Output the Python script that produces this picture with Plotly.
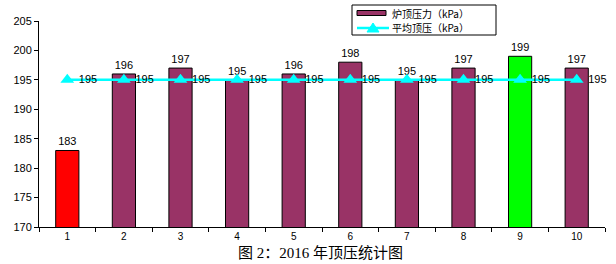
import plotly.graph_objects as go

categories = ["1", "2", "3", "4", "5", "6", "7", "8", "9", "10"]
top_pressure = [183, 196, 197, 195, 196, 198, 195, 197, 199, 197]
avg_pressure = [195, 195, 195, 195, 195, 195, 195, 195, 195, 195]
bar_colors = ["#FF0000", "#993366", "#993366", "#993366", "#993366",
              "#993366", "#993366", "#993366", "#00FF00", "#993366"]
legend_bar_color = "#993366"
line_color = "#00FFFF"
series_names = ["炉顶压力（kPa）", "平均顶压（kPa）"]
y_ticks = [170, 175, 180, 185, 190, 195, 200, 205]

font_main = "Liberation Sans, Arial, Noto Sans CJK SC, sans-serif"

W, H = 616, 264
ML, MR, MT, MB = 39, 11, 21, 37
PW, PH = W - ML - MR, H - MT - MB


def px(xp):  # figure pixel x -> paper
    return (xp - ML) / PW


def py(yp):  # figure pixel y -> paper
    return (H - MB - yp) / PH


fig = go.Figure()
fig.add_trace(go.Bar(
    x=categories, y=top_pressure, name=series_names[0],
    marker=dict(color=bar_colors, line=dict(color="black", width=1)),
    width=0.41,
    text=[str(v) for v in top_pressure], textposition="outside",
    textfont=dict(size=11, color="black", family=font_main),
    cliponaxis=False,
))
fig.add_trace(go.Scatter(
    x=categories, y=avg_pressure, name=series_names[1],
    mode="lines+markers+text",
    line=dict(color=line_color, width=2.5),
    marker=dict(symbol="triangle-up", size=12, color=line_color),
    text=[" " + str(v) for v in avg_pressure], textposition="middle right",
    textfont=dict(size=11, color="black", family=font_main),
    cliponaxis=False,
))

fig.update_layout(
    width=W, height=H,
    margin=dict(l=ML, r=MR, t=MT, b=MB),
    plot_bgcolor="white", paper_bgcolor="white",
    showlegend=False,
    bargap=0.59,
    font=dict(family=font_main, color="black"),
)
fig.update_xaxes(
    type="category", tickson="boundaries", ticks="outside", ticklen=4,
    tickcolor="black", showline=True, linecolor="black", linewidth=1,
    showgrid=False, tickfont=dict(size=10, color="black"),
    range=[-0.5, 9.5],
)
fig.update_yaxes(
    range=[170, 205], tickvals=y_ticks, ticks="outside", ticklen=4,
    tickcolor="black", showline=True, linecolor="black", linewidth=1,
    showgrid=False, zeroline=False, tickfont=dict(size=11, color="black"),
)

# compact legend box (Excel style)
fig.add_shape(type="rect", xref="paper", yref="paper",
              x0=px(352), x1=px(496), y0=py(35), y1=py(5),
              line=dict(color="black", width=1), fillcolor="white", layer="above")
fig.add_shape(type="rect", xref="paper", yref="paper",
              x0=px(357), x1=px(386), y0=py(15.5), y1=py(10.5),
              line=dict(color="black", width=1), fillcolor=legend_bar_color, layer="above")
fig.add_shape(type="line", xref="paper", yref="paper",
              x0=px(357), x1=px(389), y0=py(28), y1=py(28),
              line=dict(color=line_color, width=2.5), layer="above")
tri = "M {},{} L {},{} L {},{} Z".format(px(367), py(32), px(379), py(32), px(373), py(23))
fig.add_shape(type="path", xref="paper", yref="paper", path=tri,
              line=dict(color=line_color, width=1), fillcolor=line_color, layer="above")
for name, yc in zip(series_names, [13, 28]):
    fig.add_annotation(text=name, xref="paper", yref="paper",
                       x=px(391), y=py(yc), xanchor="left", yanchor="middle",
                       showarrow=False, borderpad=0,
                       font=dict(size=10, color="black", family="Noto Sans CJK SC, sans-serif"))

fig.add_annotation(
    text="图 2：2016 年顶压统计图", xref="paper", yref="paper",
    x=px(320), y=-0.08, xanchor="center", yanchor="top", showarrow=False,
    font=dict(size=15, color="black", family="Liberation Serif, Noto Sans CJK SC, serif"),
)

fig.write_html("out.html")
